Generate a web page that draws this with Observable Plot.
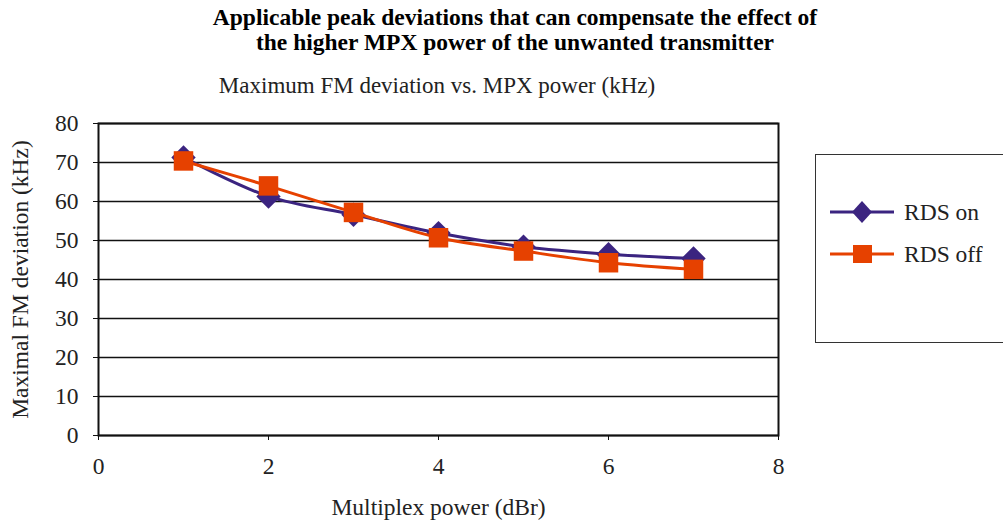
<!DOCTYPE html>
<html><head><meta charset="utf-8">
<script src="https://cdn.jsdelivr.net/npm/d3@7"></script>
<script src="https://cdn.jsdelivr.net/npm/@observablehq/plot@0.6"></script>
<style>
body{margin:0;background:#fff;font-family:"Liberation Serif","Times New Roman",serif;}
#wrap{position:relative;width:1003px;height:529px;overflow:hidden;}
#title{position:absolute;left:0;width:1030px;top:5px;text-align:center;font-weight:bold;font-size:23.5px;line-height:25px;color:#000;}
#sub{position:absolute;left:0;width:874px;top:72px;text-align:center;font-size:23px;line-height:28px;color:#222;}
#legend{position:absolute;left:815px;top:154px;width:200px;height:189px;border:1.5px solid #333;box-sizing:border-box;}
.li{position:absolute;left:14px;height:22px;font-size:23.5px;color:#222;}
.li svg{position:absolute;left:0;top:0;}
.li span{position:absolute;left:74px;top:-3px;white-space:nowrap;line-height:28px;}
#chart{position:absolute;left:0;top:0;}
</style></head>
<body><div id="wrap">
<div id="chart"></div>
<div id="title">Applicable peak deviations that can compensate the effect of<br>the higher MPX power of the unwanted transmitter</div>
<div id="sub">Maximum FM deviation vs. MPX power (kHz)</div>
<div id="legend"></div>
</div>
<script>
const mpxPower = [1, 2, 3, 4, 5, 6, 7];
const rdsOn  = [71.3, 61.3, 56.6, 51.9, 48.4, 46.5, 45.4];
const rdsOff = [70.4, 64.0, 57.2, 50.7, 47.3, 44.3, 42.6];
const seriesNames = ["RDS on", "RDS off"];
const seriesColors = ["#3b2480", "#e64100"];
const seriesSymbols = ["diamond2", "square"];
const xTicks = [0, 2, 4, 6, 8];
const yTicks = [0, 10, 20, 30, 40, 50, 60, 70, 80];

const onData = mpxPower.map((x, i) => ({x, y: rdsOn[i]}));
const offData = mpxPower.map((x, i) => ({x, y: rdsOff[i]}));

const font = '"Liberation Serif","Times New Roman",serif';
const plot = Plot.plot({
  width: 1003, height: 529,
  marginLeft: 98, marginRight: 225, marginTop: 123, marginBottom: 94,
  style: {fontFamily: font, fontSize: "23.5px", color: "#222", background: "transparent"},
  x: {domain: [0, 8], label: null},
  y: {domain: [0, 80], label: null},
  marks: [
    Plot.gridY(yTicks, {stroke: "#111", strokeOpacity: 1, strokeWidth: 1.5}),
    Plot.frame({stroke: "#111", strokeWidth: 2}),
    Plot.axisX({ticks: xTicks, tickSize: 5, tickPadding: 17, fontSize: 23.5, stroke: "#111", label: null}),
    Plot.axisY({ticks: yTicks, tickSize: 5, tickPadding: 15, fontSize: 23.5, stroke: "#111", label: null}),
    Plot.line(onData, {x: "x", y: "y", stroke: seriesColors[0], strokeWidth: 3, curve: "catmull-rom"}),
    Plot.dot(onData, {x: "x", y: "y", symbol: seriesSymbols[0], fill: seriesColors[0], r: 11}),
    Plot.line(offData, {x: "x", y: "y", stroke: seriesColors[1], strokeWidth: 3, curve: "catmull-rom"}),
    Plot.dot(offData, {x: "x", y: "y", symbol: seriesSymbols[1], fill: seriesColors[1], r: 11}),
    Plot.text(["Multiplex power (dBr)"], {frameAnchor: "bottom", dy: 79, fontSize: 23.5, fill: "#222"}),
    Plot.text(["Maximal FM deviation (kHz)"], {frameAnchor: "left", dx: -78, rotate: -90, textAnchor: "middle", fontSize: 23.5, fill: "#222"})
  ]
});
document.getElementById("chart").append(plot);

const legend = document.getElementById("legend");
seriesNames.forEach((name, i) => {
  const d = document.createElement("div");
  d.className = "li";
  d.style.top = (i === 0 ? 46 : 88) + "px";
  const sym = i === 0
    ? `<polygon points="32,0 42,11 32,22 22,11" fill="${seriesColors[i]}"/>`
    : `<rect x="23" y="2" width="19" height="18" fill="${seriesColors[i]}"/>`;
  d.innerHTML = `<svg width="66" height="22"><line x1="0" x2="64" y1="11" y2="11" stroke="${seriesColors[i]}" stroke-width="3"/>${sym}</svg><span>${name}</span>`;
  legend.append(d);
});
</script>
</body></html>
